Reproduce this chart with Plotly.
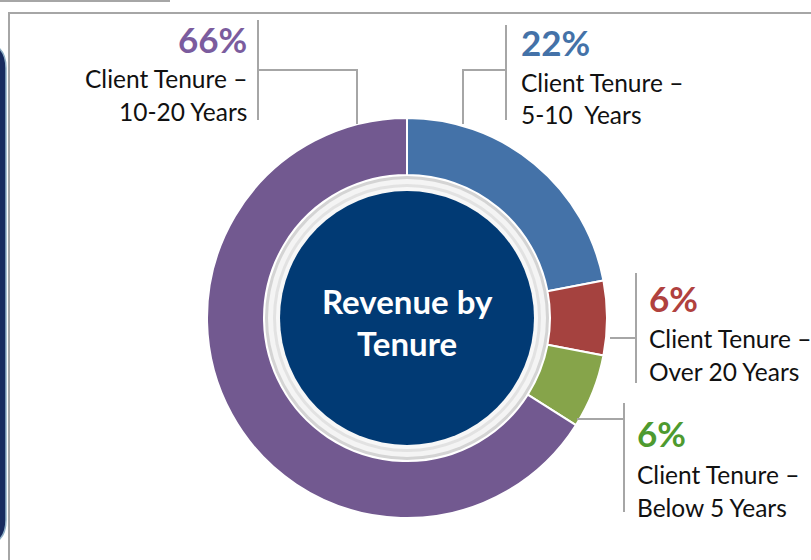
import plotly.graph_objects as go

categories = ["Client Tenure – 5-10  Years", "Client Tenure – Over 20 Years",
              "Client Tenure – Below 5 Years", "Client Tenure – 10-20 Years"]
values = [22, 6, 6, 66]
pct_labels = ["22%", "6%", "6%", "66%"]
line1 = ["Client Tenure –", "Client Tenure –", "Client Tenure –", "Client Tenure –"]
line2 = ["5-10  Years", "Over 20 Years", "Below 5 Years", "10-20 Years"]
slice_colors = ["#4472A8", "#A5423F", "#86A44A", "#725990"]
text_colors = ["#4472A8", "#B0413E", "#4E9A2F", "#7B5C9E"]

W, H = 811, 560
CX, CY, R = 407, 318, 200
FONT = "Lato"
GRAY = "#A6A6A6"


def fx(x):
    return x / W


def fy(y):
    return 1 - y / H


fig = go.Figure()
fig.add_trace(go.Pie(
    labels=categories, values=values, sort=False, direction="clockwise",
    rotation=0, hole=0.715, textinfo="none", hoverinfo="skip",
    marker=dict(colors=slice_colors, line=dict(color="white", width=2)),
    domain=dict(x=[fx(CX - R), fx(CX + R)], y=[fy(CY + R), fy(CY - R)]),
    showlegend=False,
))

P = dict(xref="paper", yref="paper")
shapes = []


def pline(pts, color=GRAY, width=2):
    p = "M " + " L ".join(f"{fx(x):.5f},{fy(y):.5f}" for x, y in pts)
    shapes.append(dict(type="path", path=p, line=dict(color=color, width=width), **P))


# frame lines
pline([(0, 1), (170, 1)])
pline([(9, 570), (9, 13), (820, 13)])
# left navy panel (rounded)
path = (f"M {fx(-40)},{fy(42)} L {fx(-20)},{fy(42)} Q {fx(6)},{fy(42)} {fx(6)},{fy(68)} "
        f"L {fx(6)},{fy(520)} Q {fx(6)},{fy(546)} {fx(-20)},{fy(546)} L {fx(-40)},{fy(546)} Z")
shapes.append(dict(type="path", path=path, fillcolor="#172A5E",
                   line=dict(color="#8FB0C6", width=1.5), **P))
# center ornaments
for r, fc in [(142, "#D4D4D4"), (139, "#F4F4F4"), (134, "#E2E2E2"), (131, "#F7F7F7"), (127, "#013A74")]:
    shapes.append(dict(type="circle", x0=fx(CX - r), x1=fx(CX + r), y0=fy(CY + r), y1=fy(CY - r),
                       fillcolor=fc, line=dict(width=0), layer="above", **P))

# connector lines
conn = [
    [(506, 25), (506, 120)], [(506, 70), (463, 70), (463, 124)],
    [(636, 273), (636, 383)], [(636, 338), (610, 338)],
    [(624, 403), (624, 512)], [(624, 419), (577, 419)],
    [(258, 20), (258, 120)], [(258, 70), (357, 70), (357, 124)],
]
for pts in conn:
    pline(pts)

# label positions: (x, anchor, y_pct, y_l1, y_l2)
pos = [(519, "left", 42, 82, 115),
       (647, "left", 298, 338, 371),
       (635, "left", 433, 474, 507),
       (249, "right", 39, 79, 112)]

ann = []
for i, (x, anc, yp, y1, y2) in enumerate(pos):
    ann.append(dict(x=fx(x), y=fy(yp), text=f"<b>{pct_labels[i]}</b>", xanchor=anc, yanchor="middle",
                    showarrow=False, font=dict(family=FONT, size=35, color=text_colors[i]), **P))
    ann.append(dict(x=fx(x), y=fy(y1), text=line1[i], xanchor=anc, yanchor="middle",
                    showarrow=False, font=dict(family=FONT, size=24.5, color="#111111"), **P))
    ann.append(dict(x=fx(x), y=fy(y2), text=line2[i], xanchor=anc, yanchor="middle",
                    showarrow=False, font=dict(family=FONT, size=24.5, color="#111111"), **P))

ann.append(dict(x=fx(CX), y=fy(301), text="<b>Revenue by</b>", showarrow=False, xanchor="center",
                yanchor="middle", font=dict(family=FONT, size=33, color="white"), **P))
ann.append(dict(x=fx(CX), y=fy(343), text="<b>Tenure</b>", showarrow=False, xanchor="center",
                yanchor="middle", font=dict(family=FONT, size=33, color="white"), **P))

fig.update_layout(
    width=W, height=H, margin=dict(l=0, r=0, t=0, b=0),
    paper_bgcolor="white", plot_bgcolor="white",
    shapes=shapes, annotations=ann, showlegend=False,
)
fig.write_html("out.html", config={"displayModeBar": False},
               post_script="document.body.style.margin='0';")
